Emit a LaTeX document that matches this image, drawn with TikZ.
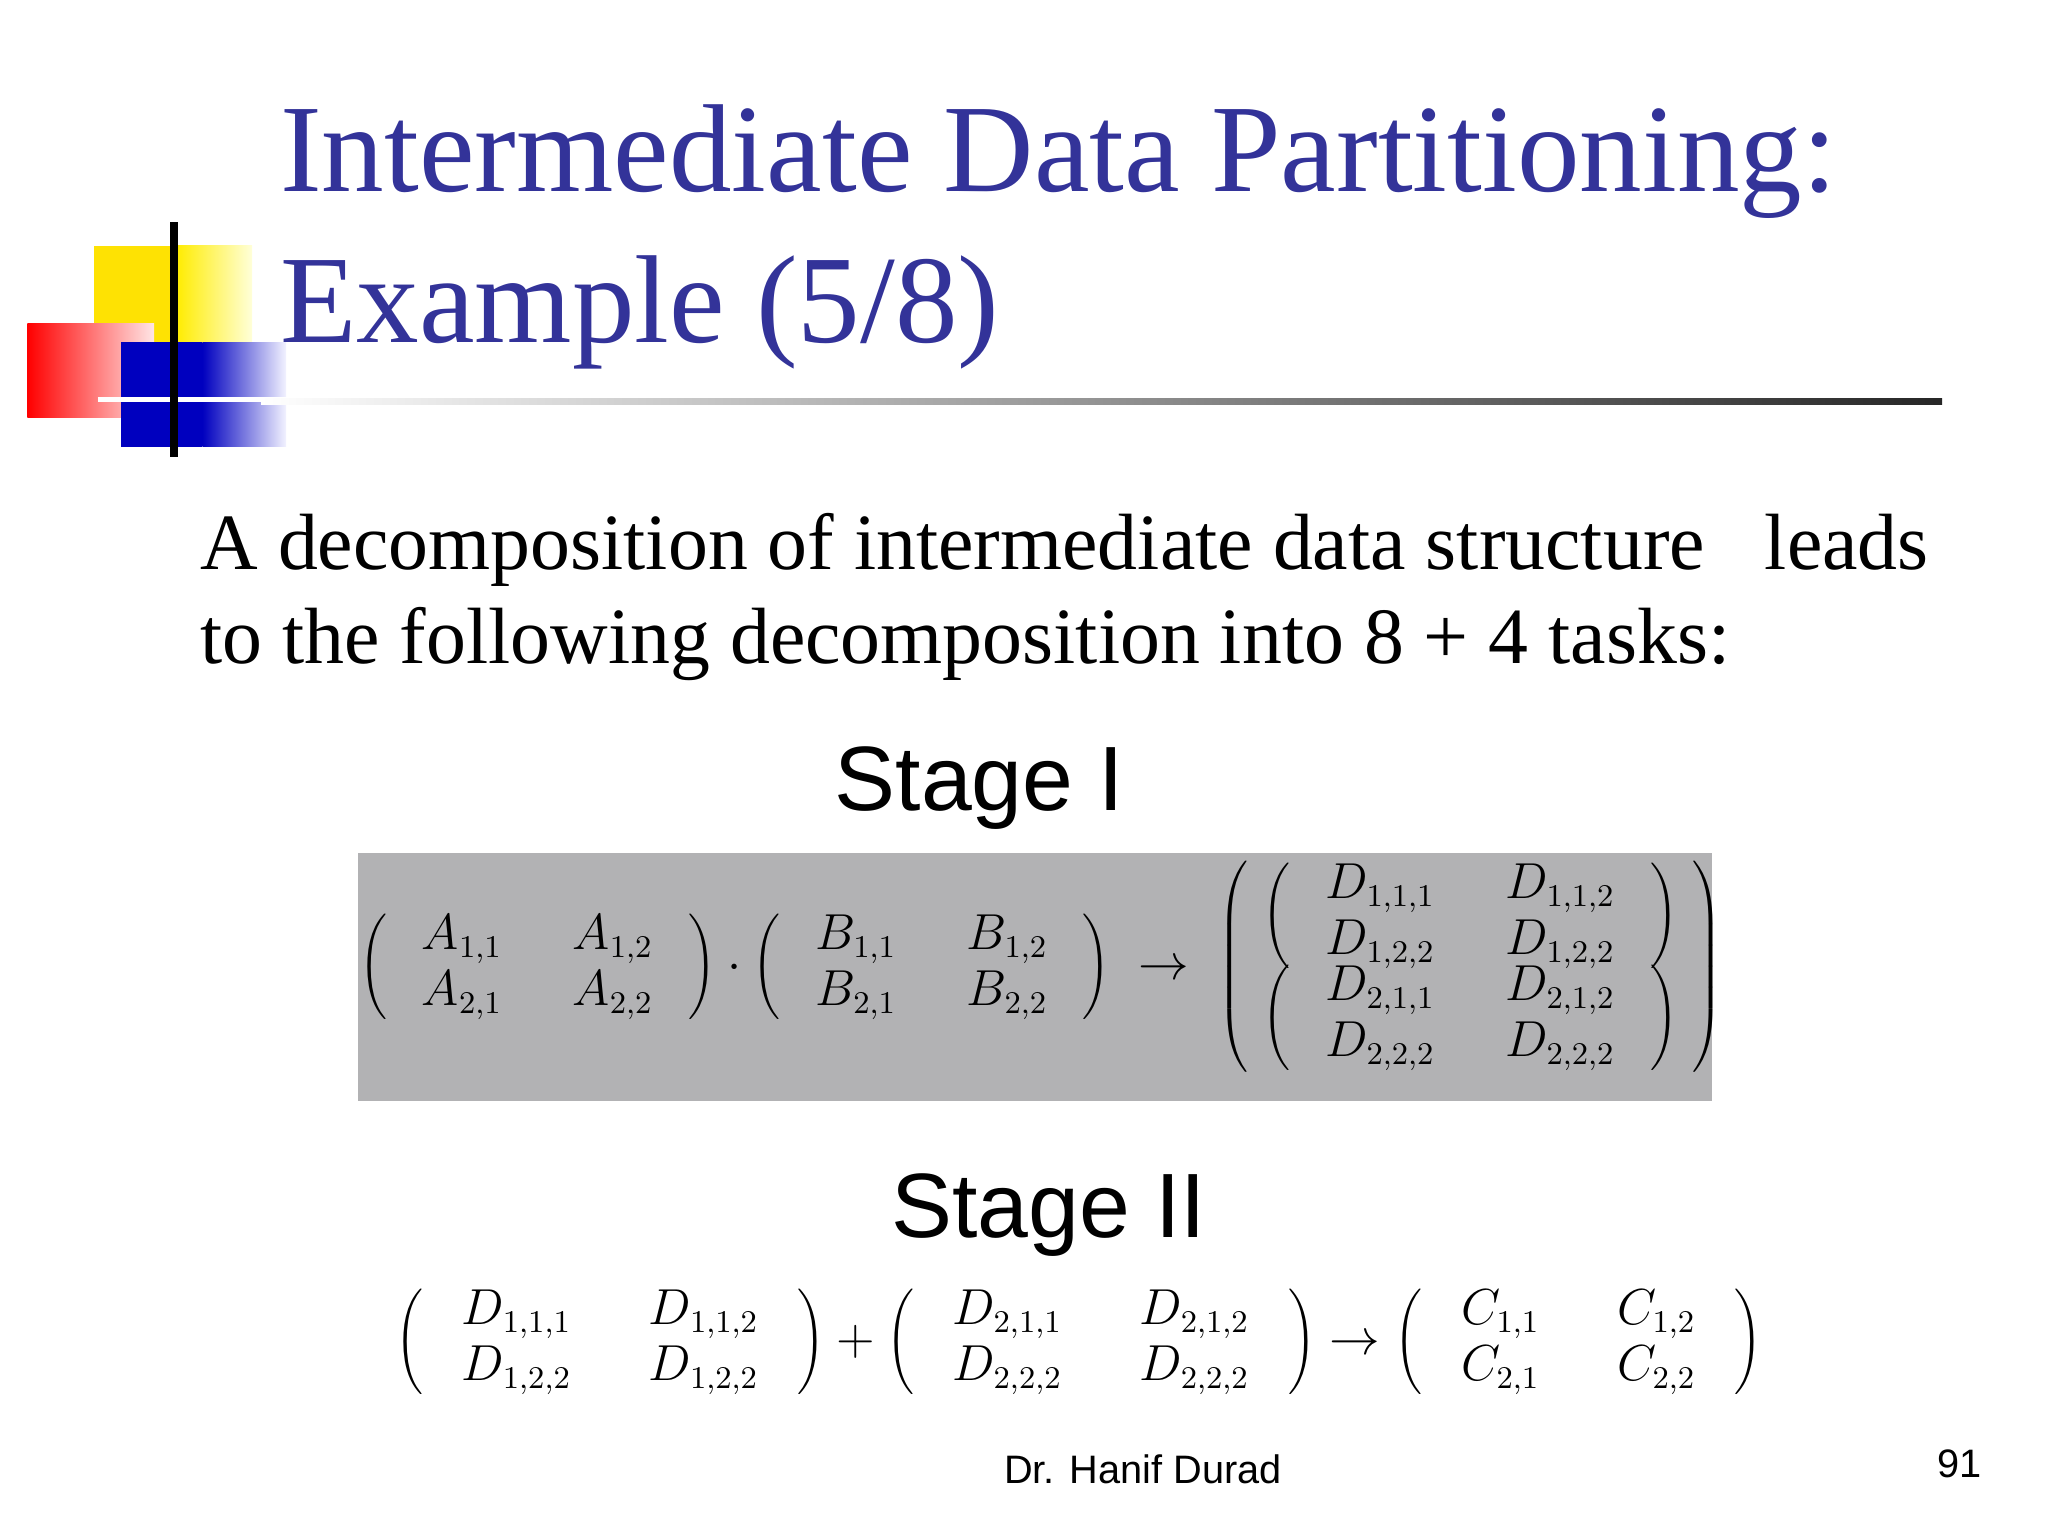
\documentclass[tikz,border=0pt]{standalone}
\usepackage{fontspec}
\setmainfont{Liberation Serif}
\newfontfamily\sansf{Liberation Sans}
\usetikzlibrary{calc}
\definecolor{titleblue}{RGB}{51,51,153}
\definecolor{boxgray}{RGB}{178,178,180}
\begin{document}
\begin{tikzpicture}[x=0.01306cm,y=-0.01306cm,
  mat/.style={inner sep=0pt,font=\fontsize{13.5}{16}\selectfont}]
\useasboundingbox (0,0) rectangle (1568,1176);
% logo
\fill[yellow!85!orange] (72,188) rectangle (135,262);
\shade[left color=yellow!85!orange,right color=yellow!15] (135,188) rectangle (193,262);
\shade[left color=red,right color=red!10] (21,248) rectangle (118,320);
\fill[blue!75!black] (93,262) rectangle (155,342);
\shade[left color=blue!75!black,right color=blue!5] (155,262) rectangle (219,342);
\draw[white,line width=1.5pt] (75,306) -- (220,306);
\draw[black,line width=2.2pt] (133,170) -- (133,350);
\shade[left color=white,right color=black!85] (200,305) rectangle (1487,310);
% title
\node[anchor=base west,inner sep=0pt,text=titleblue,font=\fontsize{35.6}{42}\selectfont] (t1) at (214,147) {Intermediate Data Partitioning:};
\node[anchor=base west,inner sep=0pt,text=titleblue,font=\fontsize{35.6}{42}\selectfont] (t2) at (214,262) {Example (5/8)};
% body
\node[anchor=base west,inner sep=0pt,font=\fontsize{22.7}{28}\selectfont] (b1) at (153,436) {A decomposition of intermediate data structure \ \ leads};
\node[anchor=base west,inner sep=0pt,font=\fontsize{22.7}{28}\selectfont] (b2) at (153,508) {to the following decomposition into 8 + 4 tasks:};
% stage I
\node[font=\sansf\fontsize{26}{30}\selectfont,inner sep=0pt] (s1) at (750,603) {Stage I};
\fill[boxgray] (274,653) rectangle (1311,843);
\node[mat] (m1) at (797,740) {$\renewcommand{\arraystretch}{1.0}\setlength{\arraycolsep}{10pt}
\left(\begin{array}{cc}A_{1,1}&A_{1,2}\\A_{2,1}&A_{2,2}\end{array}\right)\cdot
\left(\begin{array}{cc}B_{1,1}&B_{1,2}\\B_{2,1}&B_{2,2}\end{array}\right)\;\rightarrow\;
\left(\setlength{\arraycolsep}{4pt}\begin{array}{c}
\setlength{\arraycolsep}{10pt}\left(\begin{array}{cc}D_{1,1,1}&D_{1,1,2}\\D_{1,2,2}&D_{1,2,2}\end{array}\right)\\[-3pt]
\setlength{\arraycolsep}{10pt}\left(\begin{array}{cc}D_{2,1,1}&D_{2,1,2}\\D_{2,2,2}&D_{2,2,2}\end{array}\right)
\end{array}\right)$};
% stage II
\node[font=\sansf\fontsize{26}{30}\selectfont,inner sep=0pt] (s2) at (803,930) {Stage II};
\node[mat] (m2) at (826,1027) {$\renewcommand{\arraystretch}{1.0}\setlength{\arraycolsep}{11pt}
\left(\begin{array}{cc}D_{1,1,1}&D_{1,1,2}\\D_{1,2,2}&D_{1,2,2}\end{array}\right)+
\left(\begin{array}{cc}D_{2,1,1}&D_{2,1,2}\\D_{2,2,2}&D_{2,2,2}\end{array}\right)\rightarrow
\left(\begin{array}{cc}C_{1,1}&C_{1,2}\\C_{2,1}&C_{2,2}\end{array}\right)$};
% footer
\node[font=\sansf\fontsize{11.3}{14}\selectfont,inner sep=0pt] (f) at (875,1125) {Dr. Hanif Durad};
\node[font=\sansf\fontsize{11.3}{14}\selectfont,inner sep=0pt] (pg) at (1500,1121) {91};
\end{tikzpicture}
\end{document}
